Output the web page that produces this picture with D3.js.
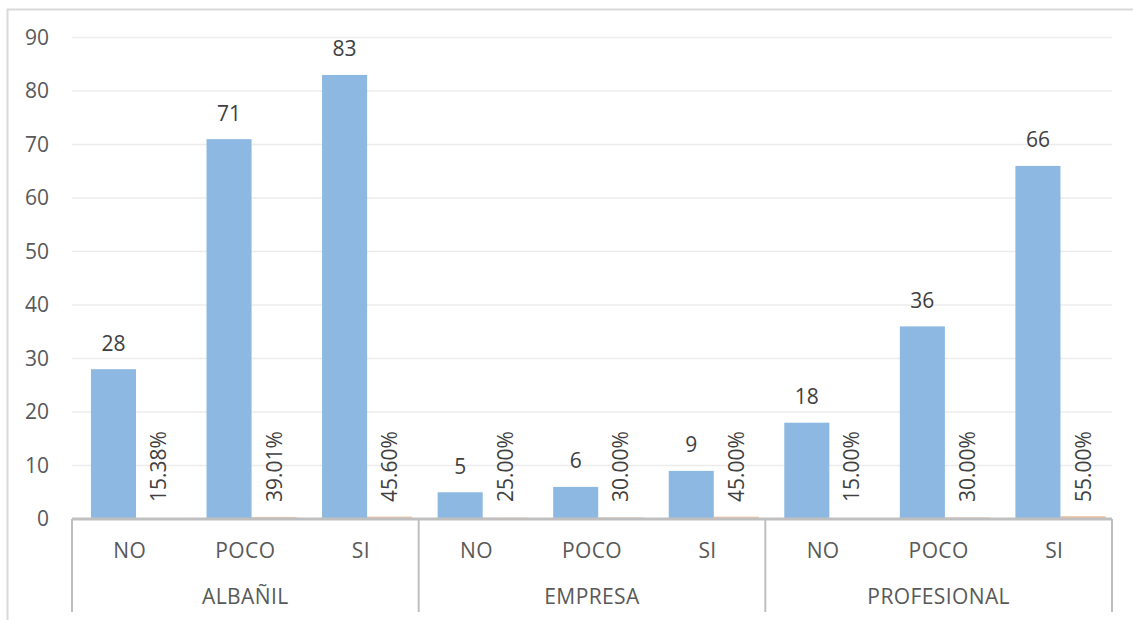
<!DOCTYPE html>
<html><head><meta charset="utf-8">
<script src="https://cdn.jsdelivr.net/npm/d3@7"></script>
<style>body{margin:0;background:#fff}svg{display:block}text{font-family:"Open Sans",sans-serif}</style>
</head><body>
<svg id="c" width="1133" height="620"></svg>
<script>
const groups = ["ALBAÑIL", "EMPRESA", "PROFESIONAL"];
const answers = ["NO", "POCO", "SI"];
const counts = [28, 71, 83, 5, 6, 9, 18, 36, 66];
const percents = [0.1538, 0.3901, 0.4560, 0.25, 0.30, 0.45, 0.15, 0.30, 0.55];
const yTicks = [0, 10, 20, 30, 40, 50, 60, 70, 80, 90];

const rows = [];
groups.forEach((g, gi) => answers.forEach((a, ai) => {
  const i = gi * answers.length + ai;
  rows.push({id: i, group: g, answer: a, count: counts[i], pct: percents[i]});
}));

const svg = d3.select("#c");
const L = 72, R = 1112, B = 519, T = 37.5;
const x = d3.scaleBand().domain(rows.map(d => d.id)).range([L, R]).padding(0);
const xg = d3.scaleBand().domain(groups).range([L, R]).padding(0);
const y = d3.scaleLinear().domain([0, 90]).range([B, T]);
const bw = x.bandwidth();
const textCol = "#595959";
const FS = 21;

// outer border
svg.append("rect").attr("x", 7.5).attr("y", 9.5).attr("width", 1200).attr("height", 700)
  .attr("fill", "none").attr("stroke", "#d9d9d9").attr("stroke-width", 2);

// gridlines
svg.append("g").selectAll("line").data(yTicks.filter(t => t > 0)).join("line")
  .attr("x1", L).attr("x2", R).attr("y1", d => y(d)).attr("y2", d => y(d))
  .attr("stroke", "#ececec").attr("stroke-width", 1.5);

// y axis labels
const yAxis = d3.axisLeft(y).tickValues(yTicks).tickSize(0).tickPadding(0);
const ya = svg.append("g").attr("transform", "translate(49,0)").call(yAxis);
ya.select(".domain").remove();
ya.selectAll("text").attr("font-size", FS).attr("fill", textCol).attr("font-family", "'Open Sans',sans-serif");

// percent bars (tiny)
svg.append("g").selectAll("rect").data(rows).join("rect")
  .attr("x", d => x(d.id) + bw * 0.554).attr("width", bw * 0.39)
  .attr("y", d => y(d.pct)).attr("height", d => B - y(d.pct))
  .attr("fill", "#f4c7a8");

// count bars
svg.append("g").selectAll("rect").data(rows).join("rect")
  .attr("x", d => x(d.id) + bw * 0.164).attr("width", bw * 0.39)
  .attr("y", d => y(d.count)).attr("height", d => B - y(d.count))
  .attr("fill", "#8db8e1");

// count labels
svg.append("g").selectAll("text").data(rows).join("text")
  .attr("x", d => x(d.id) + bw * 0.164 + bw * 0.195)
  .attr("y", d => y(d.count) - 18.5)
  .attr("text-anchor", "middle").attr("font-size", FS).attr("fill", "#404040")
  .text(d => d.count);

// percent labels
const fmt = d3.format(".2%");
svg.append("g").selectAll("text").data(rows).join("text")
  .attr("transform", d => `translate(${x(d.id) + bw * 0.554 + bw * 0.195},502) rotate(-90)`)
  .attr("dy", "0.36em").attr("text-anchor", "start").attr("font-size", FS).attr("fill", "#404040")
  .text(d => fmt(d.pct));

// category axis
const axCol = "#bfbfbf";
svg.append("line").attr("x1", L).attr("x2", R).attr("y1", B).attr("y2", B)
  .attr("stroke", axCol).attr("stroke-width", 3);
const seps = [L, ...groups.map(g => xg(g) + xg.bandwidth())];
svg.append("g").selectAll("line").data(seps).join("line")
  .attr("x1", d => d).attr("x2", d => d).attr("y1", B).attr("y2", 612)
  .attr("stroke", axCol).attr("stroke-width", 2);

svg.append("g").selectAll("text").data(rows).join("text")
  .attr("x", d => x(d.id) + bw / 2).attr("y", 558)
  .attr("text-anchor", "middle").attr("font-size", FS).attr("letter-spacing", 0.4).attr("fill", textCol)
  .text(d => d.answer);
svg.append("g").selectAll("text").data(groups).join("text")
  .attr("x", d => xg(d) + xg.bandwidth() / 2).attr("y", 604)
  .attr("text-anchor", "middle").attr("font-size", FS).attr("letter-spacing", 0.4).attr("fill", textCol)
  .text(d => d);
</script>
</body></html>
